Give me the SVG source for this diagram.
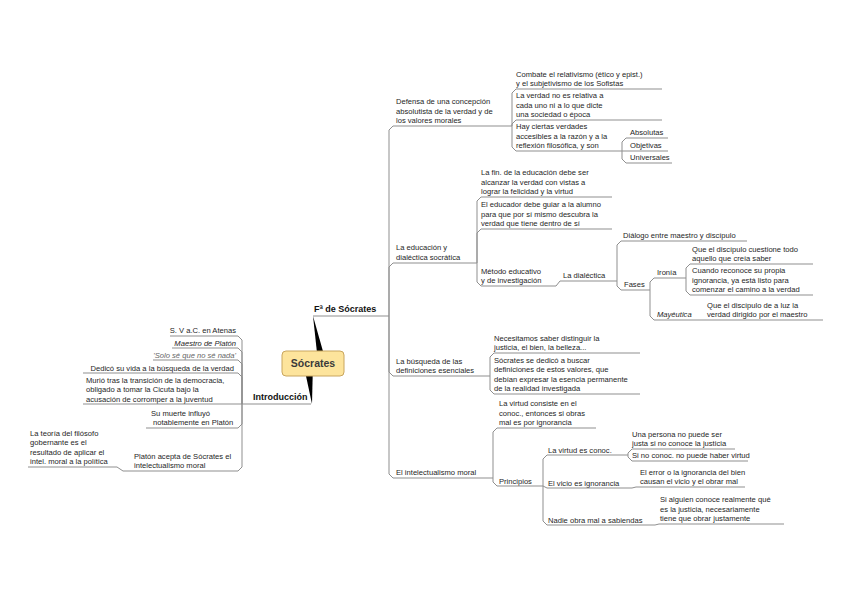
<svg xmlns="http://www.w3.org/2000/svg" width="848" height="599" viewBox="0 0 848 599">
<style>
text{font-family:"Liberation Sans",Arial,sans-serif;font-size:7.6px;fill:#1e1e1e}
.b{font-weight:bold;font-size:9px;fill:#111}
.i{font-style:italic}
.g{fill:#666}
.e{text-anchor:end}
.ul,.c{stroke:#8f8f8f;stroke-width:1;fill:none}
.w{fill:#000}
</style>
<rect width="848" height="599" fill="#fff"/>
<g id="connectors">
<polygon class="w" points="313,316 326,362 318,362"/>
<polygon class="w" points="303,362 313,362 312,404"/>
<path class="c" d="M389 316V130L393 126M389 316V267L393 263M389 316V372L393 376M389 316V474L393 478"/>
<path class="c" d="M512 126V93L516 89M512 126V124L516 120M512 126V147L516 151"/>
<path class="c" d="M622 151V142L626 138M622 151H626M622 151V159L626 163"/>
<path class="c" d="M477 263V201L481 197M477 263V233L481 229M477 263V282L481 286"/>
<path class="c" d="M556 286L560 281"/>
<path class="c" d="M617 281V245L621 241M617 281V286L621 290"/>
<path class="c" d="M650 290V282L654 278M650 290V316L654 320"/>
<path class="c" d="M686 278V268L690 264M686 278V291L690 295"/>
<path class="c" d="M700 320H704"/>
<path class="c" d="M490 376V357L494 353M490 376V390L494 394"/>
<path class="c" d="M493 478V432L497 428M493 478V482L497 486"/>
<path class="c" d="M543 486V459L547 455M543 486L547 488M543 486V521L547 525"/>
<path class="c" d="M628 455V453L632 449M628 455V457L632 461"/>
<path class="c" d="M632 488L636 487"/>
<path class="c" d="M655 525L659 524"/>
<path class="c" d="M242 404V340L238 336M242 404V352L238 348M242 404V364L238 360M242 404V377L238 373M242 404H238M242 404V424L238 428M242 404V467L238 471"/>
<path class="c" d="M123 471L117 467"/>
</g>
<g id="central">
<rect x="282" y="351" width="62" height="25" rx="4" fill="#fde49c" stroke="#c9a65e" stroke-width="1"/>
<text x="313" y="367" text-anchor="middle" style="font-weight:bold;font-size:10.5px;fill:#3a3a3a">Sócrates</text>
</g>
<g id="fa-socrates"><text class="b" x="314" y="312">Fª de Sócrates</text><line class="ul" x1="313" y1="316" x2="389" y2="316"/></g>
<g id="introduccion"><text class="b" x="253" y="400">Introducción</text><line class="ul" x1="242" y1="404" x2="311" y2="404"/></g>

<g id="defensa"><text x="396"><tspan x="396" y="104">Defensa de una concepción</tspan><tspan x="396" y="113.5">absolutista de la verdad y de</tspan><tspan x="396" y="123">los valores morales</tspan></text><line class="ul" x1="393" y1="126" x2="512" y2="126"/></g>
<g id="combate"><text><tspan x="516" y="77">Combate el relativismo (ético y epist.)</tspan><tspan x="516" y="86">y el subjetivismo de los Sofistas</tspan></text><line class="ul" x1="516" y1="89" x2="662" y2="89"/></g>
<g id="verdad-no-relativa"><text><tspan x="516" y="98">La verdad no es relativa a</tspan><tspan x="516" y="107.5">cada uno ni a lo que dicte</tspan><tspan x="516" y="117">una sociedad o época</tspan></text><line class="ul" x1="516" y1="120" x2="662" y2="120"/></g>
<g id="hay-verdades"><text><tspan x="516" y="129">Hay ciertas verdades</tspan><tspan x="516" y="138.5">accesibles a la razón y a la</tspan><tspan x="516" y="148">reflexión filosófica, y son</tspan></text><line class="ul" x1="516" y1="151" x2="622" y2="151"/></g>
<g id="absolutas"><text x="630" y="135">Absolutas</text><line class="ul" x1="626" y1="138" x2="668" y2="138"/></g>
<g id="objetivas"><text x="630" y="148">Objetivas</text><line class="ul" x1="626" y1="151" x2="668" y2="151"/></g>
<g id="universales"><text x="630" y="160">Universales</text><line class="ul" x1="626" y1="163" x2="672" y2="163"/></g>

<g id="educacion"><text><tspan x="396" y="250">La educación y</tspan><tspan x="396" y="260">dialéctica socrática</tspan></text><line class="ul" x1="393" y1="263" x2="477" y2="263"/></g>
<g id="fin-educacion"><text><tspan x="481" y="175">La fin. de la educación debe ser</tspan><tspan x="481" y="184.5">alcanzar la verdad con vistas a</tspan><tspan x="481" y="194">lograr la felicidad y la virtud</tspan></text><line class="ul" x1="481" y1="197" x2="612" y2="197"/></g>
<g id="educador"><text><tspan x="481" y="207">El educador debe guiar a la alumno</tspan><tspan x="481" y="216.5">para que por sí mismo descubra la</tspan><tspan x="481" y="226">verdad que tiene dentro de sí</tspan></text><line class="ul" x1="481" y1="229" x2="612" y2="229"/></g>
<g id="metodo"><text><tspan x="481" y="273.5">Método educativo</tspan><tspan x="481" y="283">y de investigación</tspan></text><line class="ul" x1="481" y1="286" x2="556" y2="286"/></g>
<g id="dialectica"><text x="563" y="278">La dialéctica</text><line class="ul" x1="560" y1="281" x2="617" y2="281"/></g>
<g id="dialogo"><text x="623" y="238">Diálogo entre maestro y discípulo</text><line class="ul" x1="621" y1="241" x2="747" y2="241"/></g>
<g id="fases"><text x="624" y="287">Fases</text><line class="ul" x1="621" y1="290" x2="650" y2="290"/></g>
<g id="ironia"><text x="657" y="275">Ironía</text><line class="ul" x1="654" y1="278" x2="686" y2="278"/></g>
<g id="cuestione"><text><tspan x="692" y="252">Que el discípulo cuestione todo</tspan><tspan x="692" y="261">aquello que creía saber</tspan></text><line class="ul" x1="690" y1="264" x2="813" y2="264"/></g>
<g id="reconoce"><text><tspan x="692" y="273">Cuando reconoce su propia</tspan><tspan x="692" y="282.5">ignorancia, ya está listo para</tspan><tspan x="692" y="292">comenzar el camino a la verdad</tspan></text><line class="ul" x1="690" y1="295" x2="813" y2="295"/></g>
<g id="mayeutica"><text class="i" x="657" y="317">Mayéutica</text><line class="ul" x1="654" y1="320" x2="700" y2="320"/></g>
<g id="luz"><text><tspan x="707" y="307.5">Que el discípulo de a luz la</tspan><tspan x="707" y="317">verdad dirigido por el maestro</tspan></text><line class="ul" x1="704" y1="320" x2="823" y2="320"/></g>

<g id="busqueda"><text><tspan x="396" y="363.5">La búsqueda de las</tspan><tspan x="396" y="373">definiciones esenciales</tspan></text><line class="ul" x1="393" y1="376" x2="490" y2="376"/></g>
<g id="necesitamos"><text><tspan x="494" y="340.5">Necesitamos saber distinguir la</tspan><tspan x="494" y="350">justicia, el bien, la belleza...</tspan></text><line class="ul" x1="494" y1="353" x2="640" y2="353"/></g>
<g id="socrates-dedico"><text><tspan x="494" y="362.5">Sócrates se dedicó a buscar</tspan><tspan x="494" y="372">definiciones de estos valores, que</tspan><tspan x="494" y="381.5">debían expresar la esencia permanente</tspan><tspan x="494" y="391">de la realidad investigada</tspan></text><line class="ul" x1="494" y1="394" x2="640" y2="394"/></g>

<g id="intelectualismo"><text x="396" y="475">El intelectualismo moral</text><line class="ul" x1="393" y1="478" x2="493" y2="478"/></g>
<g id="virtud-consiste"><text><tspan x="499" y="406">La virtud consiste en el</tspan><tspan x="499" y="415.5">conoc., entonces si obras</tspan><tspan x="499" y="425">mal es por ignorancia</tspan></text><line class="ul" x1="497" y1="428" x2="596" y2="428"/></g>
<g id="principios"><text x="499" y="483.5">Principios</text><line class="ul" x1="497" y1="486" x2="543" y2="486"/></g>
<g id="virtud-conoc"><text x="548" y="452.5">La virtud es conoc.</text><line class="ul" x1="547" y1="455" x2="628" y2="455"/></g>
<g id="persona"><text><tspan x="632" y="436.5">Una persona no puede ser</tspan><tspan x="632" y="446">justa si no conoce la justicia</tspan></text><line class="ul" x1="632" y1="449" x2="735" y2="449"/></g>
<g id="sin-conoc"><text x="632" y="458">Si no conoc. no puede haber virtud</text><line class="ul" x1="632" y1="461" x2="748" y2="461"/></g>
<g id="vicio"><text x="548" y="485.5">El vicio es ignorancia</text><line class="ul" x1="547" y1="488" x2="632" y2="488"/></g>
<g id="error"><text><tspan x="640" y="474.5">El error o la ignorancia del bien</tspan><tspan x="640" y="484">causan el vicio y el obrar mal</tspan></text><line class="ul" x1="636" y1="487" x2="745" y2="487"/></g>
<g id="nadie"><text x="548" y="522.5">Nadie obra mal a sabiendas</text><line class="ul" x1="547" y1="525" x2="655" y2="525"/></g>
<g id="si-alguien"><text><tspan x="660" y="502">Si alguien conoce realmente qué</tspan><tspan x="660" y="511.5">es la justicia, necesariamente</tspan><tspan x="660" y="521">tiene que obrar justamente</tspan></text><line class="ul" x1="659" y1="524" x2="784" y2="524"/></g>

<g id="atenas"><text class="e" x="236" y="333">S. V a.C. en Atenas</text><line class="ul" x1="170" y1="336" x2="238" y2="336"/></g>
<g id="maestro"><text class="e i" x="236" y="345.5">Maestro de Platón</text><line class="ul" x1="172" y1="348" x2="238" y2="348"/></g>
<g id="solo-se"><text class="e i g" x="236" y="357.5">'Solo sé que no sé nada'</text><line class="ul" x1="153" y1="360" x2="238" y2="360"/></g>
<g id="dedico"><text class="e" x="234" y="370.5">Dedicó su vida a la búsqueda de la verdad</text><line class="ul" x1="83" y1="373" x2="238" y2="373"/></g>
<g id="murio"><text><tspan x="86" y="382.5">Murió tras la transición de la democracia,</tspan><tspan x="86" y="392">obligado a tomar la Cicuta bajo la</tspan><tspan x="86" y="401.5">acusación de corromper a la juventud</tspan></text><line class="ul" x1="83" y1="404" x2="238" y2="404"/></g>
<g id="su-muerte"><text><tspan x="151" y="415.5">Su muerte influyó</tspan><tspan x="153" y="425">notablemente en Platón</tspan></text><line class="ul" x1="146" y1="428" x2="238" y2="428"/></g>
<g id="platon-acepta"><text><tspan x="134" y="459">Platón acepta de Sócrates el</tspan><tspan x="134" y="468">intelectualismo moral</tspan></text><line class="ul" x1="123" y1="471" x2="238" y2="471"/></g>
<g id="teoria"><text><tspan x="30" y="435.5">La teoría del filósofo</tspan><tspan x="30" y="445">gobernante es el</tspan><tspan x="30" y="454.5">resultado de aplicar el</tspan><tspan x="30" y="464">intel. moral a la política</tspan></text><line class="ul" x1="28" y1="467" x2="117" y2="467"/></g>
</svg>
